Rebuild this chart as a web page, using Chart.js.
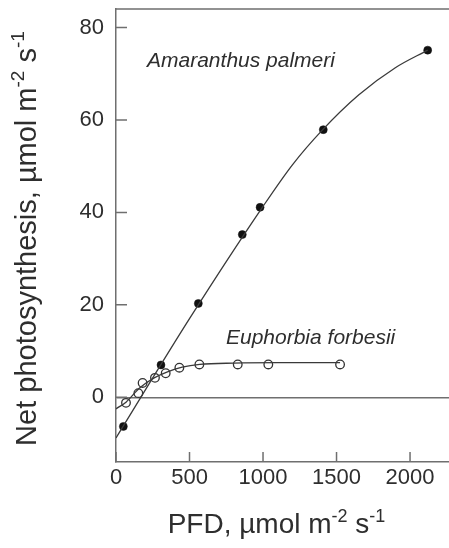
<!DOCTYPE html>
<html>
<head>
<meta charset="utf-8">
<script src="https://cdn.jsdelivr.net/npm/chart.js@4.4.1/dist/chart.umd.min.js"></script>
<style>
  html, body { margin: 0; padding: 0; background: #fff; }
  #wrap { width: 449px; height: 548px; }
</style>
</head>
<body>
<div id="wrap"><canvas id="chart" width="449" height="548"></canvas></div>
<script>
// Net photosynthesis measured at each photon flux density (PFD)
const amaranthusPFD = [50, 306, 560, 859, 980, 1410, 2120];
const amaranthusNet = [-6.3, 7.0, 20.3, 35.2, 41.1, 57.9, 75.1];
const euphorbiaPFD = [68, 152, 181, 265, 338, 431, 567, 828, 1036, 1524];
const euphorbiaNet = [-1.2, 0.9, 3.1, 4.2, 5.2, 6.4, 7.1, 7.1, 7.1, 7.1];

// Fitted light-response curves
const amaranthusFitPFD = [0, 500, 1000, 1200, 1400, 1650, 1900, 2120];
const amaranthusFitNet = [-8.8, 17.0, 41.3, 50.3, 57.7, 65.4, 71.3, 75.1];
const euphorbiaFitPFD = [0, 70, 160, 260, 350, 450, 570, 800, 1100, 1524];
const euphorbiaFitNet = [-2.5, -1.0, 2.0, 4.2, 5.5, 6.5, 7.1, 7.4, 7.5, 7.5];

const xTicks = [0, 500, 1000, 1500, 2000];
const yTicks = [0, 20, 40, 60, 80];

const speciesNames = ['Amaranthus palmeri', 'Euphorbia forbesii'];
const xTitle = [['PFD, µmol m', false], ['-2', true], [' s', false], ['-1', true]];
const yTitle = [['Net photosynthesis, µmol m', false], ['-2', true], [' s', false], ['-1', true]];

const pairs = (xs, ys) => xs.map((v, i) => ({ x: v, y: ys[i] }));

const AXIS = '#6f6f6f';
const INK = '#2e2e2e';
const LINE = '#3a3a3a';
const FONT = '"Liberation Sans", Arial, Helvetica, sans-serif';

function richWidth(ctx, parts, size) {
  let w = 0;
  parts.forEach(([t, sup]) => {
    ctx.font = (sup ? Math.round(size * 0.66) : size) + 'px ' + FONT;
    w += ctx.measureText(t).width;
  });
  return w;
}
function drawRich(ctx, parts, cx, baseY, size) {
  let x = cx - richWidth(ctx, parts, size) / 2;
  ctx.textAlign = 'left';
  ctx.textBaseline = 'alphabetic';
  parts.forEach(([t, sup]) => {
    ctx.font = (sup ? Math.round(size * 0.66) : size) + 'px ' + FONT;
    ctx.fillText(t, x, sup ? baseY - size * 0.4 : baseY);
    x += ctx.measureText(t).width;
  });
}

const decor = {
  id: 'decor',
  afterDraw(chart) {
    const { ctx, chartArea: a, scales: { x, y } } = chart;
    ctx.save();
    ctx.strokeStyle = AXIS;
    ctx.lineWidth = 1.5;
    ctx.beginPath();
    ctx.moveTo(a.left, a.top);
    ctx.lineTo(a.right, a.top);
    // inward tick marks
    yTicks.forEach(v => {
      const py = y.getPixelForValue(v);
      ctx.moveTo(a.left, py);
      ctx.lineTo(a.left + 11, py);
    });
    xTicks.forEach(v => {
      const px = x.getPixelForValue(v);
      ctx.moveTo(px, a.bottom);
      ctx.lineTo(px, a.bottom - 10);
    });
    ctx.stroke();

    // species labels
    ctx.fillStyle = INK;
    ctx.font = 'italic 21px ' + FONT;
    ctx.textAlign = 'left';
    ctx.textBaseline = 'alphabetic';
    ctx.fillText(speciesNames[0], x.getPixelForValue(211), y.getPixelForValue(71.5));
    ctx.fillText(speciesNames[1], x.getPixelForValue(748), y.getPixelForValue(11.5));

    // axis titles
    drawRich(ctx, xTitle, (a.left + a.right) / 2 - 6, 533, 28);
    ctx.translate(36, (a.top + a.bottom) / 2 + 3);
    ctx.rotate(-Math.PI / 2);
    drawRich(ctx, yTitle, 0, 0, 29);
    ctx.restore();
  }
};

new Chart(document.getElementById('chart'), {
  type: 'scatter',
  data: {
    datasets: [
      {
        type: 'line',
        data: pairs(amaranthusFitPFD, amaranthusFitNet),
        borderColor: LINE, borderWidth: 1.3, pointRadius: 0,
        cubicInterpolationMode: 'monotone', fill: false
      },
      {
        type: 'line',
        data: pairs(euphorbiaFitPFD, euphorbiaFitNet),
        borderColor: LINE, borderWidth: 1.3, pointRadius: 0,
        cubicInterpolationMode: 'monotone', fill: false
      },
      {
        label: speciesNames[1],
        data: pairs(euphorbiaPFD, euphorbiaNet),
        pointRadius: 4.3, pointBorderWidth: 1.3,
        pointBackgroundColor: '#ffffff', pointBorderColor: '#333'
      },
      {
        label: speciesNames[0],
        data: pairs(amaranthusPFD, amaranthusNet),
        pointRadius: 4, pointBorderWidth: 0.5,
        pointBackgroundColor: '#111', pointBorderColor: '#111'
      }
    ]
  },
  options: {
    responsive: false,
    animation: false,
    devicePixelRatio: 1,
    layout: { autoPadding: false, padding: { top: 9, right: 0, left: 0, bottom: 0 } },
    plugins: { legend: { display: false }, tooltip: { enabled: false } },
    scales: {
      x: {
        type: 'linear', min: 0, max: 2265,
        afterBuildTicks: s => { s.ticks = xTicks.map(v => ({ value: v })); },
        afterFit: s => { s.height = 86; s.paddingLeft = 0; s.paddingRight = 0; },
        grid: { display: false, drawTicks: false },
        border: { display: true, color: AXIS, width: 1.5 },
        ticks: { color: INK, padding: 3, font: { family: FONT, size: 22 }, callback: v => String(v) }
      },
      y: {
        type: 'linear', min: -14, max: 84,
        afterBuildTicks: s => { s.ticks = yTicks.map(v => ({ value: v })); },
        afterFit: s => { s.width = 116; s.paddingTop = 0; s.paddingBottom = 0; },
        grid: {
          drawTicks: false,
          lineWidth: 1.5,
          color: c => (c.tick && c.tick.value === 0 ? AXIS : 'rgba(0,0,0,0)')
        },
        border: { display: true, color: AXIS, width: 1.5 },
        ticks: { color: INK, padding: 12, font: { family: FONT, size: 22 }, callback: v => String(v) }
      }
    }
  },
  plugins: [decor]
});
</script>
</body>
</html>
